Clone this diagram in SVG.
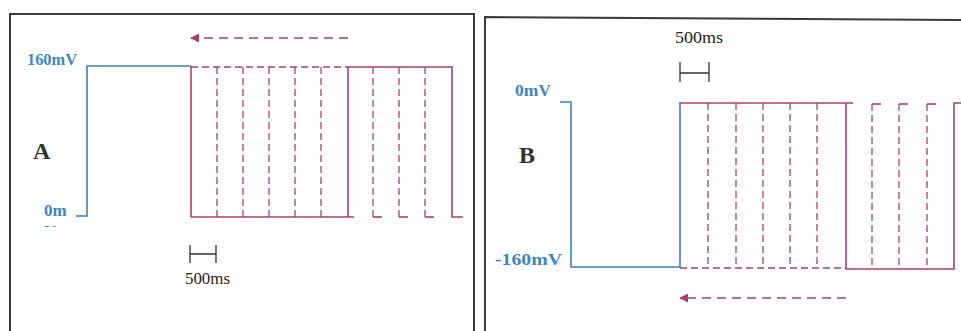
<svg xmlns="http://www.w3.org/2000/svg" width="961" height="331" viewBox="0 0 961 331">
<style>
.frame{fill:none;stroke:#3a3a3a;stroke-width:2}
.blue{fill:none;stroke:#3f7fb3;stroke-width:1.6}
.mag{fill:none;stroke:#a8406c;stroke-width:1.6}
.magd{fill:none;stroke:#a8406c;stroke-width:1.3;stroke-dasharray:7 4}
.arr{fill:none;stroke:#a8406c;stroke-width:1.6;stroke-dasharray:9 6}
.bar{fill:none;stroke:#333;stroke-width:1.3}
.lbl{font-family:"Liberation Serif",serif;font-weight:bold;fill:#3f86c2;font-size:17px}
.big{font-family:"Liberation Serif",serif;font-weight:bold;fill:#333;font-size:24px}
.ms{font-family:"Liberation Serif",serif;fill:#222;font-size:17px}
</style>
<defs>
<marker id="ah" viewBox="0 0 10 10" refX="9" refY="5" markerWidth="9" markerHeight="9" markerUnits="userSpaceOnUse" orient="auto">
<path d="M0,0 L10,5 L0,10 Z" fill="#a8406c"/>
</marker>
<clipPath id="cutV"><rect x="40" y="222" width="20" height="5"/></clipPath>
</defs>

<g id="panelA">
<path class="frame" d="M10,332 L10,14 L474,14 L474,332"/>
<g id="A-labels">
<text class="lbl" x="27" y="65" textLength="50" lengthAdjust="spacingAndGlyphs">160mV</text>
<text class="big" x="33" y="159">A</text>
<text class="lbl" x="44" y="216">0m</text>
<text class="lbl" x="44" y="237" clip-path="url(#cutV)">V</text>
</g>
<g id="A-trace">
<polyline class="blue" points="76,216 87,216 87,66 191,66"/>
<line class="mag" x1="191" y1="66" x2="191" y2="217"/>
<line class="mag" x1="191" y1="217" x2="354" y2="217"/>
<line class="magd" x1="191" y1="67" x2="348" y2="67"/>
<line class="magd" x1="217" y1="67" x2="217" y2="217"/>
<line class="magd" x1="243" y1="67" x2="243" y2="217"/>
<line class="magd" x1="269" y1="67" x2="269" y2="217"/>
<line class="magd" x1="295" y1="67" x2="295" y2="217"/>
<line class="magd" x1="321" y1="67" x2="321" y2="217"/>
<polyline class="mag" points="348,217 348,67 452,67 452,217 463,217"/>
<line class="magd" x1="373" y1="67" x2="373" y2="217"/>
<line class="mag" x1="373" y1="217" x2="382" y2="217"/>
<line class="magd" x1="399" y1="67" x2="399" y2="217"/>
<line class="mag" x1="399" y1="217" x2="408" y2="217"/>
<line class="magd" x1="425" y1="67" x2="425" y2="217"/>
<line class="mag" x1="425" y1="217" x2="434" y2="217"/>
</g>
<g id="A-scale">
<path class="bar" d="M190,245 V263 M216,245 V263 M190,254 H216"/>
<text class="ms" x="185" y="284" textLength="45" lengthAdjust="spacingAndGlyphs">500ms</text>
</g>
<g id="A-arrow">
<line class="arr" x1="348" y1="38" x2="191" y2="38" marker-end="url(#ah)"/>
</g>
</g>

<g id="panelB">
<path class="frame" d="M485,332 L485,17 L962,20"/>
<g id="B-labels">
<text class="lbl" x="515" y="96" textLength="36" lengthAdjust="spacingAndGlyphs">0mV</text>
<text class="big" x="519" y="163">B</text>
<text class="lbl" x="495" y="265" textLength="67" lengthAdjust="spacingAndGlyphs">-160mV</text>
</g>
<g id="B-trace">
<polyline class="blue" points="560,102 571,102 571,267 680,267 680,102"/>
<line class="mag" x1="680" y1="103" x2="853" y2="103"/>
<line class="magd" x1="680" y1="268" x2="846" y2="268"/>
<line class="magd" x1="708" y1="103" x2="708" y2="268"/>
<line class="magd" x1="736" y1="103" x2="736" y2="268"/>
<line class="magd" x1="763" y1="103" x2="763" y2="268"/>
<line class="magd" x1="790" y1="103" x2="790" y2="268"/>
<line class="magd" x1="817" y1="103" x2="817" y2="268"/>
<polyline class="mag" points="846,103 846,269 954,269 954,103 962,103"/>
<line class="magd" x1="872" y1="104" x2="872" y2="269"/>
<line class="mag" x1="872" y1="104" x2="881" y2="104"/>
<line class="magd" x1="899" y1="104" x2="899" y2="269"/>
<line class="mag" x1="899" y1="104" x2="908" y2="104"/>
<line class="magd" x1="927" y1="104" x2="927" y2="269"/>
<line class="mag" x1="927" y1="104" x2="936" y2="104"/>
</g>
<g id="B-scale">
<text class="ms" x="675" y="43" textLength="48" lengthAdjust="spacingAndGlyphs">500ms</text>
<path class="bar" d="M680,62 V82 M709,62 V82 M680,73 H709"/>
</g>
<g id="B-arrow">
<line class="arr" x1="846" y1="298" x2="680" y2="298" marker-end="url(#ah)"/>
</g>
</g>
</svg>
